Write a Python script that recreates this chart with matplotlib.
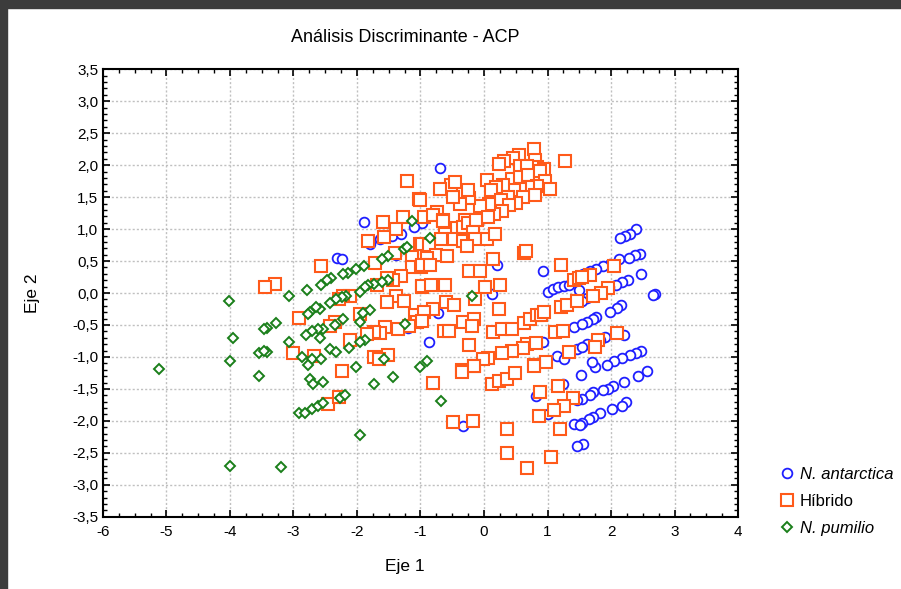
import matplotlib
matplotlib.use("Agg")
import matplotlib.pyplot as plt
from matplotlib.lines import Line2D
from matplotlib.patches import Rectangle
from matplotlib.ticker import MultipleLocator, FuncFormatter

# N. antarctica
ant_x = [-1.89, -0.70, -0.05, -0.97, -1.64, -1.79, -1.45, -1.30, -1.11, -2.31, -2.24, -1.38,
         -1.19, -0.87, 0.21, 0.93, 0.12, -0.72, 1.01, 1.09, 1.17, 1.26, 1.34, 1.50, 0.93,
         1.41, 1.145, 1.26, 1.46,
         2.40, 2.30, 2.22, 2.14, 2.46, 2.38, 2.29, 2.12, 1.98, 1.88, 1.77, 1.67, 1.56, 2.48,
         2.69, 2.66, 2.27, 2.17, 2.08, 1.97, 1.87, 1.76, 1.62, 1.54, 2.15, 2.09, 1.99, 1.77,
         1.72, 1.62, 1.54, 2.205, 1.91, 1.83, 1.62, 1.54, 2.48, 2.39, 2.30, 2.17, 2.04, 1.94,
         1.75, 1.70, 2.56,
         2.42, 2.20, 2.03, 1.96, 1.88, 1.72, 1.67, 1.54, 2.24, 2.17, 2.01, 1.83, 1.72, 1.66,
         1.54, 1.56, 1.53, 1.47,
         -0.33, 0.82, 1.25, 1.00, 1.46, 1.42, 1.51]
ant_y = [1.11, 1.96, 1.19, 1.09, 0.85, 0.76, 0.90, 0.93, 1.03, 0.55, 0.54, 0.59,
         -0.55, -0.76, 0.44, 0.35, -0.01, -0.31, 0.01, 0.06, 0.09, 0.11, 0.12, 0.04, -0.76,
         -0.53, -0.98, -1.04, -0.87,
         1.00, 0.93, 0.89, 0.86, 0.615, 0.59, 0.55, 0.53, 0.46, 0.42, 0.37, 0.35, 0.30, 0.29,
         -0.01, -0.03, 0.21, 0.18, 0.13, 0.09, 0.025, -0.03, -0.08, -0.12, -0.19, -0.24, -0.29,
         -0.38, -0.40, -0.45, -0.48, -0.655, -0.69, -0.74, -0.80, -0.85, -0.90, -0.94, -0.97,
         -1.02, -1.07, -1.12, -1.16, -1.08, -1.22,
         -1.30, -1.385, -1.46, -1.50, -1.51, -1.55, -1.60, -1.66, -1.71, -1.77, -1.81, -1.88,
         -1.945, -1.97, -2.03, -2.36, -1.29, -2.39,
         -2.085, -1.615, -1.42, -1.89, -1.68, -2.05, -2.065]

# Hibrido
hib_x = [-1.22, -1.02, -1.28, -1.59, -0.95,
         1.27, 0.78, 0.55, 0.46, 0.315, 0.23, 0.80, 0.57, 0.83, 0.945, 0.68, 0.04, 0.44, 0.57,
         0.69, 0.88, 0.965, 1.04, 0.83, 0.70, 0.57, 0.48, 0.30, 0.19, 0.105, 0.80, 0.62, 0.50,
         0.38, 0.26, 0.40, 0.28, 0.16, 0.08, -0.06, -0.23, -0.25, -0.38, -0.49, -0.525, -0.46,
         -0.70, -1.01, -0.745, -0.80, -0.64, -0.30, -0.11,
         -1.39, -1.58, -1.82, -1.01, -1.40, -1.14, -1.72, -1.14, -0.998, -2.56, -1.30, -1.43,
         -1.53, -1.69, -0.98, -3.29, -3.45, -2.11, -2.22, -2.29, -1.39, -1.26, -1.53, -1.95,
         -1.09, -1.06, -1.18, -2.35, -2.43, -2.92, -1.56, -1.35, -1.64, -1.74, -1.84, -2.11,
         -3.00, -2.68, -1.51, -1.74, -1.66, -2.24,
         -2.45, -2.29,
         -0.64, -0.43, -0.33, -0.25, -0.13, 0.068, -0.61, -0.67, -0.48, -0.336, -0.168, -0.14,
         0.042, 0.17, -0.97, -0.86, -0.76, -0.59, -0.27, -0.89, -0.97, -0.85, 0.136, -0.23,
         -0.07, 0.63, 0.66, 1.21, 1.41, 1.50, -0.97, -0.84, -0.62, 0.016, 0.25, -0.14, -0.80,
         -0.94, -0.60, -0.48, 0.24, -0.97, -0.33, -0.16, -0.19, -0.63, -0.55, 0.136, 0.29,
         0.435, 0.63, 0.72, 0.84, 0.90, 0.95, 1.21, 1.30, 1.46, -0.23, 0.68, 0.82, 0.62, 0.435,
         0.28, 1.12, 1.25, 1.34, 0.068, -0.02, -0.16, -0.35, 0.78, 0.98,
         2.04, 1.67, 1.54, 1.96, 1.84, 1.71, 2.10, 1.80, 1.75,
         -0.35, -0.16, -0.80, 0.12, 0.24, 0.36, 0.49, 0.78, 0.88, 1.17, 1.40, 1.26, 1.10, 0.86,
         1.19, -0.49, -0.18, 0.37, 0.36, 1.06, 0.67]
hib_y = [1.75, 1.47, 1.19, 1.11, 1.19,
         2.07, 2.25, 2.16, 2.12, 2.07, 2.02, 2.08, 1.99, 1.97, 1.94, 1.99, 1.77, 1.79, 1.82,
         1.84, 1.91, 1.75, 1.62, 1.68, 1.66, 1.63, 1.61, 1.69, 1.66, 1.61, 1.53, 1.50, 1.41,
         1.50, 1.45, 1.37, 1.28, 1.24, 1.40, 1.36, 1.48, 1.61, 1.39, 1.50, 1.69, 1.74,
         1.62, 1.46, 1.27, 1.22, 1.15, 1.15, 1.15,
         1.00, 0.88, 0.81, 0.77, 0.62, 0.56, 0.47, 0.41, 0.41, 0.42, 0.27, 0.21,
         0.23, 0.13, 0.09, 0.145, 0.09, -0.04, -0.04, -0.09, -0.05, -0.12, -0.14, -0.33,
         -0.34, -0.46, -0.51, -0.45, -0.51, -0.39, -0.53, -0.56, -0.62, -0.61, -0.64, -0.73,
         -0.94, -0.98, -0.97, -1.00, -1.04, -1.22,
         -1.74, -1.63,
         1.12, 1.01, 1.03, 1.10, 1.14, 1.19, 0.93, 0.85, 0.85, 0.81, 0.955, 0.84,
         0.85, 0.93, 0.77, 0.75, 0.60, 0.58, 0.74, 0.55, 0.44, 0.44, 0.53, 0.35,
         0.35, 0.63, 0.65, 0.44, 0.21, 0.23, 0.11, 0.12, 0.12, 0.09, 0.13, -0.09, -0.25,
         -0.30, -0.14, -0.195, -0.25, -0.43, -0.45, -0.41, -0.51, -0.59, -0.59, -0.61, -0.57,
         -0.56, -0.47, -0.40, -0.34, -0.35, -0.30, -0.22, -0.18, -0.13, -0.81, -0.80, -0.78,
         -0.86, -0.90, -0.94, -0.61, -0.59, -0.93, -1.02, -1.04, -1.14, -1.21, -1.12, -1.08,
         0.43, 0.28, 0.25, 0.08, 0.004, -0.05, -0.62, -0.74, -0.85,
         -1.23, -1.145, -1.40, -1.42, -1.37, -1.35, -1.25, -1.145, -1.55, -1.45, -1.65, -1.76,
         -1.825, -1.93, -2.13, -2.02, -1.997, -2.13, -2.50, -2.56, -2.73]

# N. pumilio
pum_x = [-1.14, -1.26, -1.22, -1.51, -1.61, -1.89, -2.02, -2.14, -2.22, -2.41, -2.48, -2.56,
         -2.78, -3.07, -1.51, -1.61, -1.74, -1.82, -1.87, -1.95, -2.17, -2.24, -2.33, -2.43,
         -2.58, -2.64, -2.74, -2.77, -1.80, -1.90, -1.95, -2.22, -2.35, -2.53, -2.62, -2.71,
         -2.80, -2.58, -3.28, -3.42, -3.07, -1.87, -1.95, -2.12, -2.43, -2.33, -2.86, -2.71,
         -2.56, -2.77, -2.01, -3.42, -1.24, -1.58, -1.00, -0.89,
         -4.01, -3.95, -3.55, -3.47, -4.00, -5.12, -3.46, -3.54, -4.00,
         -2.74, -2.70, -2.53, -2.91, -2.82, -2.71, -2.61, -2.54, -2.26, -2.19, -1.95, -3.19,
         -1.74, -1.44,
         -0.85, -0.19, -0.67]
pum_y = [1.12, 0.69, 0.72, 0.58, 0.53, 0.42, 0.37, 0.32, 0.30, 0.23, 0.20, 0.13,
         0.04, -0.05, 0.20, 0.17, 0.145, 0.12, 0.09, 0.02, -0.05, -0.06, -0.09, -0.15,
         -0.25, -0.22, -0.29, -0.33, -0.26, -0.31, -0.45, -0.41, -0.50, -0.56, -0.57, -0.60,
         -0.66, -0.71, -0.47, -0.55, -0.76, -0.74, -0.77, -0.86, -0.87, -0.93, -1.00, -1.03,
         -1.04, -1.13, -1.15, -0.93, -0.48, -1.03, -1.16, -1.07,
         -0.12, -0.71, -0.94, -0.90, -1.07, -1.19, -0.56, -1.30, -2.70,
         -1.35, -1.42, -1.39, -1.88, -1.87, -1.81, -1.77, -1.72, -1.65, -1.60, -2.22, -2.72,
         -1.42, -1.32,
         0.86, -0.04, -1.69]

plt.rcParams["font.family"] = ["Liberation Sans", "DejaVu Sans"]
plt.rcParams["axes.unicode_minus"] = False

fig = plt.figure(figsize=(9.01, 5.89), dpi=100)
ax = fig.add_axes([0.1143, 0.1227, 0.7048, 0.7596])

c_ant, c_hib, c_pum = "#1f1fff", "#ff5a1a", "#1a7f1a"
st_ant = dict(marker="o", ls="", ms=7.0, mec=c_ant, mfc="white", mew=1.3)
st_hib = dict(marker="s", ls="", ms=8.0, mec=c_hib, mfc="white", mew=1.5)
st_pum = dict(marker="D", ls="", ms=4.6, mec=c_pum, mfc="white", mew=1.4)
ax.plot(ant_x, ant_y, zorder=3, **st_ant)
ax.plot(hib_x, hib_y, zorder=4, **st_hib)
ax.plot(pum_x, pum_y, zorder=5, **st_pum)

ax.set_xlim(-6, 4)
ax.set_ylim(-3.5, 3.5)
ax.xaxis.set_major_locator(MultipleLocator(1))
ax.xaxis.set_minor_locator(MultipleLocator(0.25))
ax.yaxis.set_major_locator(MultipleLocator(0.5))
ax.yaxis.set_minor_locator(MultipleLocator(0.1))
ax.xaxis.set_major_formatter(FuncFormatter(lambda v, p: f"{v:.0f}"))
ax.yaxis.set_major_formatter(FuncFormatter(lambda v, p: f"{v:.1f}".replace(".", ",")))
ax.tick_params(which="both", direction="in", top=True, right=True, colors="black",
               labelsize=11)
ax.tick_params(which="major", length=5, width=1.2)
ax.tick_params(axis="x", which="major", pad=6)
ax.tick_params(which="minor", length=3, width=1.0)
ax.grid(True, which="major", color="#c0c0c0", linestyle=(0, (1.5, 1.5)), linewidth=1.0)
ax.set_axisbelow(True)
for sp in ax.spines.values():
    sp.set_linewidth(1.5)

fig.text(405 / 901, 1 - 567 / 589, "Eje 1", fontsize=12.5, ha="center", va="center")
fig.text(33 / 901, 1 - 293 / 589, "Eje 2", fontsize=12.5, ha="center", va="center",
         rotation=90)
fig.text(405 / 901, 1 - 38 / 589, "Análisis Discriminante - ACP", fontsize=13,
         ha="center", va="center")

handles = [Line2D([], [], **st_ant), Line2D([], [], **st_hib), Line2D([], [], **st_pum)]
leg = fig.legend(handles, ["N. antarctica", "Híbrido", "N. pumilio"], loc="upper left",
                 bbox_to_anchor=(0.858, 0.218), frameon=False, fontsize=12,
                 handletextpad=0.3, labelspacing=0.72, handlelength=0.9, borderaxespad=0)
leg.get_texts()[0].set_style("italic")
leg.get_texts()[2].set_style("italic")

# window-like frame
fig.patches.append(Rectangle((0, 1 - 8 / 589), 1, 8 / 589, transform=fig.transFigure,
                             color="#3c3c3c", zorder=0))
fig.patches.append(Rectangle((0, 0), 7 / 901, 1, transform=fig.transFigure,
                             color="#3c3c3c", zorder=0))

fig.savefig("out.png", dpi=100)
